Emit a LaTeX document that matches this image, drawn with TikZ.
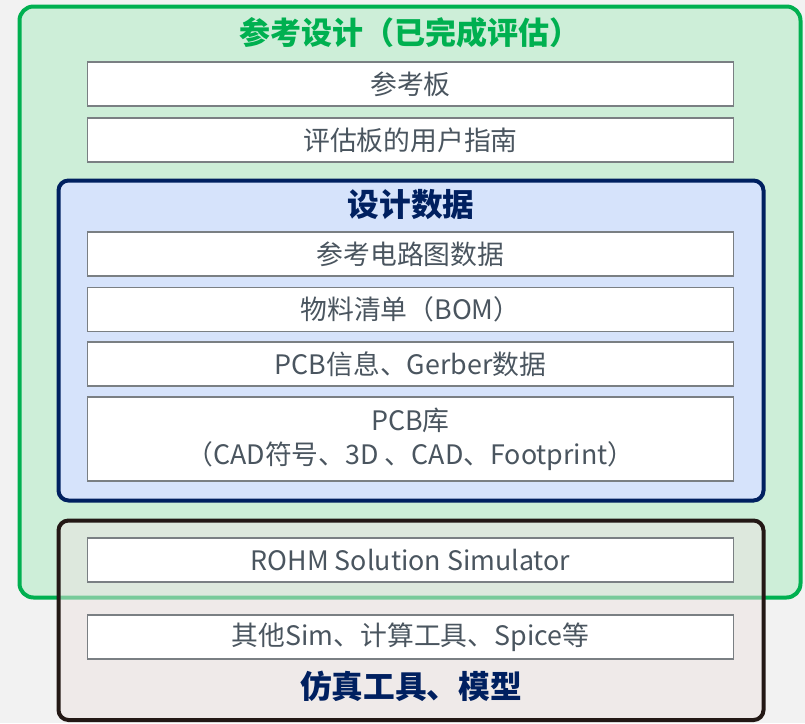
\documentclass[tikz,border=0pt]{standalone}
\usepackage{fontspec}
\setmainfont{Noto Sans CJK SC}
\definecolor{bggray}{HTML}{F2F2F2}
\definecolor{grline}{HTML}{00B050}
\definecolor{grfill}{HTML}{CDEED8}
\definecolor{navy}{HTML}{002060}
\definecolor{blfill}{HTML}{D6E3FB}
\definecolor{blk}{HTML}{231815}
\definecolor{bkfill}{HTML}{EEE4E2}
\definecolor{boxgray}{HTML}{7A7F83}
\definecolor{txtgray}{HTML}{4A555F}
\begin{document}
\begin{tikzpicture}[x=1pt,y=-1pt,
  itembox/.style={draw=boxgray, line width=1.5pt, fill=white, minimum width=646pt, minimum height=44pt,
    inner sep=0pt, text=txtgray, font=\fontsize{26.8}{34}\selectfont, align=center},
  grouptitle/.style={inner sep=0pt, font=\fontsize{31.7}{36}\selectfont\bfseries}]
\fill[bggray] (0,0) rectangle (805,723);
\useasboundingbox (0,0) rectangle (805,723);
% green group
\draw[grline, fill=grfill, line width=4pt, rounded corners=14pt] (19.5,6.5) rectangle (800.5,597.5);
\node[grouptitle, text=grline, font=\fontsize{31}{36}\selectfont\bfseries] (gt) at (410,33) {参考设计（已完成评估）};
\node[itembox] (b1) at (410.5,84) {参考板};
\node[itembox] (b2) at (410.5,140) {评估板的用户指南};
% blue group
\draw[navy, fill=blfill, line width=4pt, rounded corners=10pt] (58.5,180.5) rectangle (763.5,500.5);
\node[grouptitle, text=navy] (bt) at (411,205) {设计数据};
\node[itembox] (b3) at (410.5,254) {参考电路图数据};
\node[itembox] (b4) at (410.5,309.5) {物料清单（BOM）};
\node[itembox] (b5) at (410.5,364) {PCB信息、Gerber数据};
\node[itembox, minimum height=84pt] (b6) at (410.5,439) {PCB库\\（CAD符号、3D 、CAD、Footprint）};
% black group
\fill[bkfill, fill opacity=0.5, rounded corners=10pt] (58.5,520.5) rectangle (763.5,720);
\draw[blk, line width=4pt, rounded corners=10pt] (58.5,520.5) rectangle (763.5,720);
\node[itembox] (b7) at (410.5,560) {ROHM Solution Simulator};
\node[itembox] (b8) at (410.5,637) {其他Sim、计算工具、Spice等};
\node[grouptitle, text=navy] (kt) at (411,686) {仿真工具、模型};
\end{tikzpicture}
\end{document}
